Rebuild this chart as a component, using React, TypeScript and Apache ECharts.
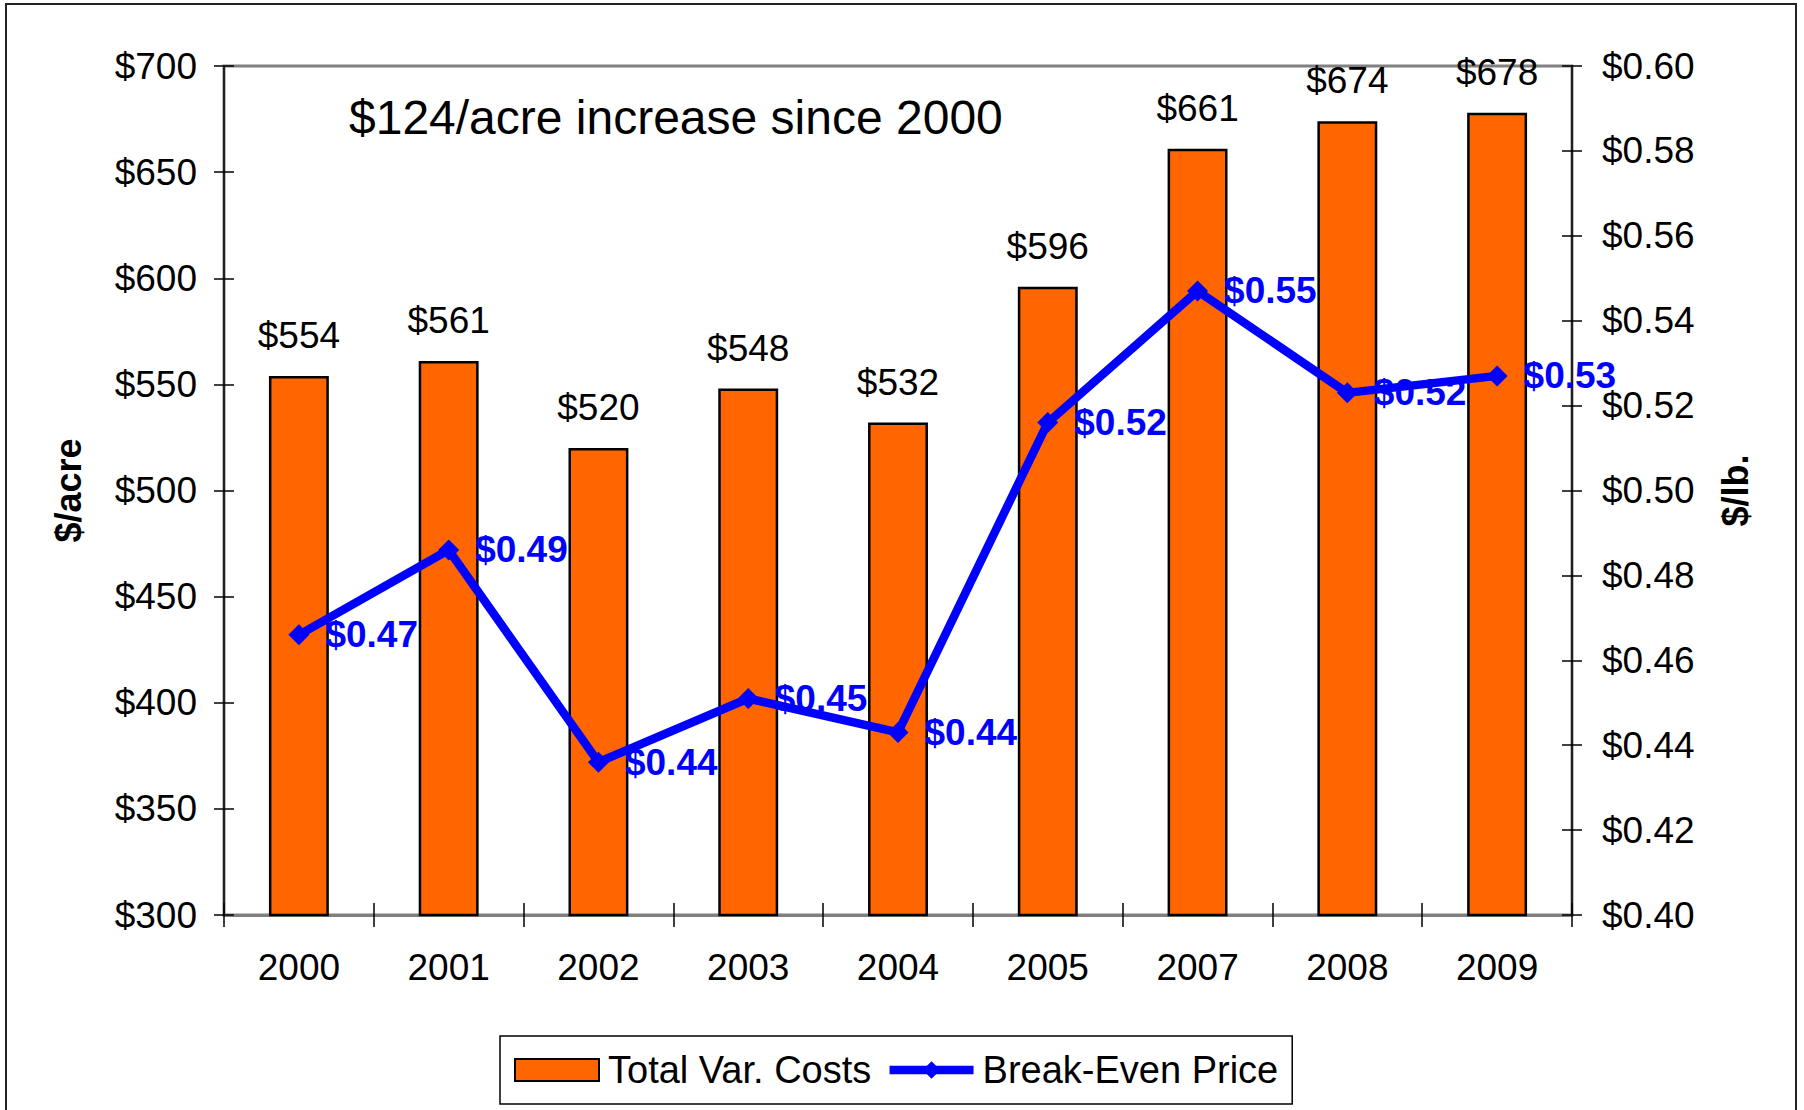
import React, { useEffect, useRef } from "react";
import * as echarts from "echarts";

const years = ["2000", "2001", "2002", "2003", "2004", "2005", "2007", "2008", "2009"];
const totalVarCosts = [554, 561, 520, 548, 532, 596, 661, 674, 678];
const breakEvenPrice = [0.466, 0.486, 0.436, 0.451, 0.443, 0.516, 0.547, 0.523, 0.527];
const leftTicks = { min: 300, max: 700, interval: 50 };
const rightTicks = { min: 0.4, max: 0.6, interval: 0.02 };
const annotation = "$124/acre increase since 2000";

const FONT = "'Liberation Sans', Arial, sans-serif";

export default function App() {
  const ref = useRef<HTMLDivElement>(null);
  useEffect(() => {
    document.body.style.margin = "0";
    document.body.style.overflow = "hidden";
    const chart = echarts.init(ref.current!, null, { renderer: "svg" });
    const plain = { color: "#000", fontFamily: FONT, fontSize: 37 };
    chart.setOption({
      animation: false,
      backgroundColor: "#fff",
      textStyle: { fontFamily: FONT },
      grid: {
        left: 224,
        right: 232,
        top: 66,
        bottom: 195,
        show: true,
        borderColor: "#808080",
        borderWidth: 3,
        backgroundColor: "transparent",
      },
      graphic: [
        {
          type: "rect",
          shape: { x: 6, y: 4, width: 1790, height: 1120 },
          style: { fill: "none", stroke: "#222", lineWidth: 2 },
          silent: true,
        },
        {
          type: "text",
          x: 349,
          y: 117,
          style: {
            text: annotation,
            font: `48px ${FONT}`,
            fill: "#000",
            textVerticalAlign: "middle",
            verticalAlign: "middle",
          },
        },
      ],
      legend: {
        left: 500,
        top: 1036,
        padding: [15, 14, 15, 14],
        borderColor: "#000",
        borderWidth: 1.5,
        itemWidth: 84,
        itemHeight: 22,
        itemGap: 14,
        textStyle: { ...plain, fontSize: 38, padding: [0, 0, 0, 4] },
        lineStyle: { width: "inherit" },
        data: [
          { name: "Total Var. Costs", icon: "rect" },
          { name: "Break-Even Price" },
        ],
      },
      xAxis: [
        {
          type: "category",
          data: years,
          boundaryGap: true,
          axisLine: { lineStyle: { color: "#808080", width: 3 } },
          axisTick: { show: true, inside: false, length: 12, lineStyle: { color: "#000", width: 1.5 } },
          axisLabel: { ...plain, margin: 34 },
        },
        {
          type: "category",
          data: years,
          position: "bottom",
          boundaryGap: true,
          axisLine: { show: false },
          axisTick: { show: true, inside: true, length: 12, lineStyle: { color: "#000", width: 1.5 } },
          axisLabel: { show: false },
        },
      ],
      yAxis: [
        {
          type: "value",
          position: "left",
          min: leftTicks.min,
          max: leftTicks.max,
          interval: leftTicks.interval,
          name: "$/acre",
          nameLocation: "middle",
          nameRotate: 90,
          nameGap: 138,
          nameTextStyle: { ...plain, fontWeight: "bold", fontSize: 36 },
          axisLine: { show: true, lineStyle: { color: "#000", width: 1.5 } },
          axisTick: { show: true, inside: false, length: 10, lineStyle: { color: "#000", width: 1.5 } },
          axisLabel: { ...plain, margin: 27, formatter: (v: number) => "$" + v },
          splitLine: { show: false },
        },
        {
          type: "value",
          position: "right",
          min: rightTicks.min,
          max: rightTicks.max,
          interval: rightTicks.interval,
          name: "$/lb.",
          nameLocation: "middle",
          nameRotate: 90,
          nameGap: 145,
          nameTextStyle: { ...plain, fontWeight: "bold", fontSize: 36 },
          axisLine: { show: true, lineStyle: { color: "#000", width: 1.5 } },
          axisTick: { show: true, inside: false, length: 10, lineStyle: { color: "#000", width: 1.5 } },
          axisLabel: { ...plain, margin: 30, formatter: (v: number) => "$" + v.toFixed(2) },
          splitLine: { show: false },
        },
        {
          type: "value",
          position: "left",
          min: leftTicks.min,
          max: leftTicks.max,
          interval: leftTicks.interval,
          axisLine: { show: false },
          axisTick: { show: true, inside: true, length: 10, lineStyle: { color: "#000", width: 1.5 } },
          axisLabel: { show: false },
          splitLine: { show: false },
        },
        {
          type: "value",
          position: "right",
          min: rightTicks.min,
          max: rightTicks.max,
          interval: rightTicks.interval,
          axisLine: { show: false },
          axisTick: { show: true, inside: true, length: 10, lineStyle: { color: "#000", width: 1.5 } },
          axisLabel: { show: false },
          splitLine: { show: false },
        },
      ],
      series: [
        {
          name: "Total Var. Costs",
          type: "bar",
          xAxisIndex: 0,
          yAxisIndex: 0,
          data: totalVarCosts,
          barWidth: "40%",
          itemStyle: { color: "#FF6600", borderColor: "#000", borderWidth: 2.5 },
          label: {
            show: true,
            position: "top",
            distance: 22,
            ...plain,
            formatter: (p: any) => "$" + p.value,
          },
          z: 2,
        },
        {
          name: "Break-Even Price",
          type: "line",
          xAxisIndex: 0,
          yAxisIndex: 1,
          data: breakEvenPrice,
          symbol: "diamond",
          symbolSize: 21,
          lineStyle: { color: "#0000FF", width: 8.5 },
          itemStyle: { color: "#0000FF" },
          label: {
            show: true,
            position: "right",
            distance: 16,
            color: "#0000FF",
            fontFamily: FONT,
            fontSize: 37,
            fontWeight: "bold",
            formatter: (p: any) => "$" + p.value.toFixed(2),
          },
          z: 5,
        },
      ],
    });
    return () => chart.dispose();
  }, []);
  return <div ref={ref} style={{ width: 1804, height: 1110 }} />;
}
